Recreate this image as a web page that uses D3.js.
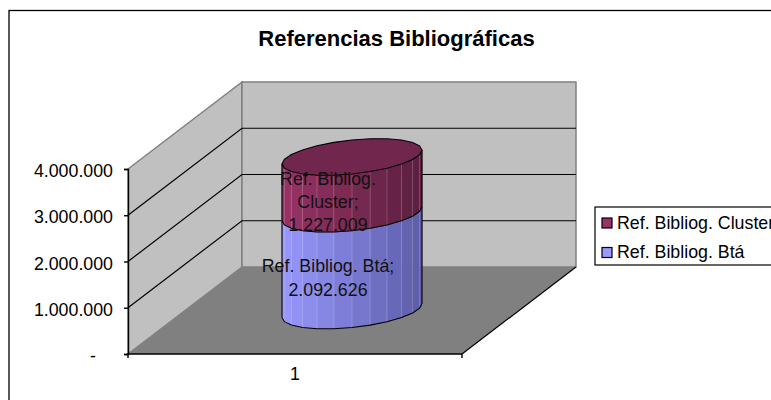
<!DOCTYPE html>
<html lang="en">
<head>
  <meta charset="UTF-8">
  <title>Referencias Bibliográficas</title>
  <script src="https://d3js.org/d3.v7.min.js"></script>
  <style>
    html, body { margin: 0; padding: 0; background: #fff; overflow: hidden; }
    svg { display: block; font-family: "Liberation Sans", Arial, sans-serif; fill: #000; }
    .tick text { font-size: 17.8px; fill: #000; }
    .domain, .tick line { stroke: #000; stroke-width: 1.4; }
  </style>
</head>
<body>
<div id="chart"></div>
<script>
const categories = ["1"];
const seriesNames = ["Ref. Bibliog. Btá", "Ref. Bibliog. Cluster"];
const seriesValues = [2092626, 1227009];
const seriesColors = ["#9999ff", "#993366"];
const seriesDark = ["#5c5ca6", "#5a1f3f"];
const seriesTop = ["#7a7acc", "#70264d"];
const tickValues = [0, 1000000, 2000000, 3000000, 4000000];
const labelLines = [["Ref. Bibliog. Btá;", "2.092.626"], ["Ref. Bibliog.", "Cluster;", "1.227.009"]];

const width = 771, height = 400;

const svg = d3.select("#chart").append("svg")
  .attr("width", width)
  .attr("height", height);

const y = d3.scaleLinear().domain([0, 4000000]).range([354, 169]);
const x = d3.scaleBand().domain(categories).range([128, 462]);

// depth of the 3d box, 0 = front, 1 = back
const depthX = d3.scaleLinear().domain([0, 1]).range([0, 114]);
const depthY = d3.scaleLinear().domain([0, 1]).range([0, -87]);
const pt = (px, v, d) => [px + depthX(d), y(v) + depthY(d)];

const line = d3.line();
const closed = pts => line(pts) + "Z";

const x0 = x.range()[0], x1 = x.range()[1];
const vMin = y.domain()[0], vMax = y.domain()[1];

// outer frame, runs off the right and bottom of the picture
svg.append("rect")
  .attr("x", 9).attr("y", 10.5)
  .attr("width", 900).attr("height", 500)
  .attr("fill", "#fff").attr("stroke", "#000").attr("stroke-width", 1.3);

svg.append("text")
  .attr("x", 396.5).attr("y", 46)
  .attr("text-anchor", "middle")
  .style("font-size", "22px").style("font-weight", "bold")
  .text("Referencias Bibliográficas");

// walls and floor
svg.append("path")
  .attr("d", closed([pt(x0, vMin, 0), pt(x0, vMax, 0), pt(x0, vMax, 1), pt(x0, vMin, 1)]))
  .attr("fill", "#c0c0c0").attr("stroke", "#808080").attr("stroke-width", 1.5);
svg.append("path")
  .attr("d", closed([pt(x0, vMin, 1), pt(x0, vMax, 1), pt(x1, vMax, 1), pt(x1, vMin, 1)]))
  .attr("fill", "#c0c0c0").attr("stroke", "#808080").attr("stroke-width", 1.5);
svg.append("path")
  .attr("d", closed([pt(x0, vMin, 0), pt(x0, vMin, 1), pt(x1, vMin, 1), pt(x1, vMin, 0)]))
  .attr("fill", "#808080");

// gridlines, skipping the zero and the top edge
svg.append("g").selectAll("path")
  .data(tickValues.filter(v => v > vMin && v < vMax))
  .enter().append("path")
  .attr("d", v => line([pt(x0, v, 0), pt(x0, v, 1), pt(x1, v, 1)]))
  .attr("fill", "none").attr("stroke", "#000").attr("stroke-width", 1.2);

// floor right edge
svg.append("path")
  .attr("d", line([pt(x1, vMin, 1), pt(x1, vMin, 0)]))
  .attr("fill", "none").attr("stroke", "#000").attr("stroke-width", 1.2);

// axes
const formatTick = v => v === 0 ? "-" : d3.format(",")(v).replace(/,/g, ".");
const yAxis = svg.append("g")
  .attr("transform", `translate(${x0},0)`)
  .call(d3.axisLeft(y).tickValues(tickValues).tickFormat(formatTick).tickSize(4).tickPadding(11));
yAxis.selectAll(".tick text")
  .attr("dy", "0.43em")
  // accounting format leaves a gap after the dash
  .attr("x", v => v === 0 ? -32 : -15);

const xAxis = svg.append("g")
  .attr("transform", `translate(0,${y(vMin)})`)
  .call(d3.axisBottom(x).tickSize(0).tickPadding(13));
xAxis.selectAll(".domain").remove();
xAxis.append("path").attr("class", "domain").attr("d", line([[x0, 0], [x0, 4], [x0, 0], [x1, 0], [x1, 4]])).attr("fill", "none");

// cylinder, built from flat facets like the original
const cx = x(categories[0]) + x.bandwidth() / 2 + depthX(0.5);
const baseY = d3.scaleLinear().domain(y.domain()).range(y.range().map(r => r + depthY(0.5)));
const rx = 70, ry = 17, skew = 7;
const ringAngles = d3.range(0, 24).map(i => i / 24 * 2 * Math.PI);
const ringPoint = (a, cy) => [cx + rx * Math.cos(a), cy - skew * Math.cos(a) + ry * Math.sin(a)];

// front half only goes from right (0) to left (PI), angles grow downwards on screen
const frontAngles = d3.range(0, 13).map(i => i / 12 * Math.PI);
const shade = d3.scaleLinear().domain([-rx, rx]).range([0, 1]);

let base = 0;
seriesValues.forEach((val, s) => {
  const yBot = baseY(base), yTop = baseY(base + val);
  const col = d3.interpolateRgb(seriesColors[s], seriesDark[s]);
  const g = svg.append("g");
  g.selectAll("path.facet")
    .data(d3.pairs(frontAngles))
    .enter().append("path")
    .attr("class", "facet")
    .attr("d", ([a, b]) => closed([ringPoint(a, yTop), ringPoint(b, yTop), ringPoint(b, yBot), ringPoint(a, yBot)]))
    .attr("fill", ([a, b]) => col(shade(rx * (Math.cos(a) + Math.cos(b)) / 2)))
    .attr("stroke", ([a, b]) => col(shade(rx * (Math.cos(a) + Math.cos(b)) / 2)))
    .attr("stroke-width", 0.5);
  // pale seams between the facets
  g.selectAll("path.seam")
    .data(frontAngles.slice(1, -1))
    .enter().append("path")
    .attr("class", "seam")
    .attr("d", a => line([ringPoint(a, yBot), ringPoint(a, yTop)]))
    .attr("fill", "none").attr("stroke", "#fff").attr("stroke-opacity", 0.18).attr("stroke-width", 1);
  // outline of the stack section
  g.append("path")
    .attr("d", line(frontAngles.map(a => ringPoint(a, yBot))))
    .attr("fill", "none").attr("stroke", "#000").attr("stroke-width", 1.1);
  g.append("path")
    .attr("d", line([ringPoint(0, yBot), ringPoint(0, yTop)]))
    .attr("fill", "none").attr("stroke", "#000").attr("stroke-width", 1.1);
  g.append("path")
    .attr("d", line([ringPoint(Math.PI, yBot), ringPoint(Math.PI, yTop)]))
    .attr("fill", "none").attr("stroke", "#000").attr("stroke-width", 1.1);
  base += val;
});

// top lid
const lastTop = baseY(base);
svg.append("path")
  .attr("d", closed(ringAngles.map(a => ringPoint(a, lastTop))))
  .attr("fill", seriesTop[seriesTop.length - 1]).attr("stroke", "#000").attr("stroke-width", 1.1);

// data labels
const labelX = [328, 328];
const labelY = [272, 185];
const labelStep = [24, 23];
labelLines.forEach((lines, s) => {
  svg.append("text")
    .attr("text-anchor", "middle")
    .style("font-size", "17.8px")
    .attr("fill", "#111")
    .selectAll("tspan")
    .data(lines)
    .enter().append("tspan")
    .attr("x", labelX[s])
    .attr("y", (d, i) => labelY[s] + i * labelStep[s])
    .text(d => d);
});

// legend, cut by the right edge as in the original
const legend = svg.append("g");
legend.append("rect")
  .attr("x", 595).attr("y", 207)
  .attr("width", 300).attr("height", 58)
  .attr("fill", "#fff").attr("stroke", "#000").attr("stroke-width", 1.2);

const legendItems = legend.selectAll("g")
  .data(d3.range(seriesNames.length).reverse())
  .enter().append("g")
  .attr("transform", (s, i) => `translate(602,${218 + i * 29.5})`);
legendItems.append("rect")
  .attr("width", 10).attr("height", 10)
  .attr("fill", s => seriesColors[s])
  .attr("stroke", "#000").attr("stroke-width", 1.2);
legendItems.append("text")
  .attr("x", 15).attr("y", 10.5)
  .style("font-size", "17.8px")
  .text(s => seriesNames[s]);
</script>
</body>
</html>
